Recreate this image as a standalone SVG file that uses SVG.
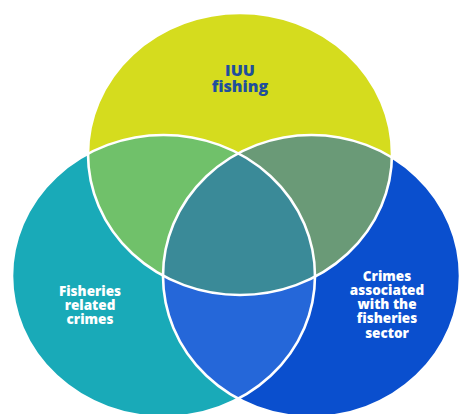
<svg xmlns="http://www.w3.org/2000/svg" xmlns:xlink="http://www.w3.org/1999/xlink" width="464" height="414" viewBox="0 0 464 414">
  <style>
    .outline { fill: none; stroke: #ffffff; stroke-width: 2.6; }
    .label { font-family: "Open Sans", "Liberation Sans", sans-serif; font-weight: 800; text-anchor: middle; }
    .light { fill: #ffffff; font-size: 13.5px; }
    .dark { fill: #1f4f9c; font-size: 16px; }
  </style>
  <defs>
    <ellipse id="e-top" cx="240" cy="154" rx="152" ry="141"/>
    <ellipse id="e-left" cx="163.5" cy="276" rx="151.5" ry="141"/>
    <ellipse id="e-right" cx="311.5" cy="276" rx="148.5" ry="141"/>
    <clipPath id="clip-top"><use xlink:href="#e-top"/></clipPath>
    <clipPath id="clip-left"><use xlink:href="#e-left"/></clipPath>
  </defs>
  <rect width="464" height="414" fill="#ffffff"/>

  <g id="iuu-fishing">
    <use xlink:href="#e-top" fill="#d5dc1e"/>
  </g>

  <g id="fisheries-related-crimes">
    <use xlink:href="#e-left" fill="#19aab8"/>
  </g>

  <g id="crimes-fisheries-sector">
    <use xlink:href="#e-right" fill="#0a4fce"/>
  </g>

  <!-- pairwise and triple overlaps -->
  <g id="overlaps">
    <use xlink:href="#e-left" fill="#70c16a" clip-path="url(#clip-top)"/>
    <use xlink:href="#e-right" fill="#6a9a77" clip-path="url(#clip-top)"/>
    <use xlink:href="#e-right" fill="#2567d9" clip-path="url(#clip-left)"/>
    <g clip-path="url(#clip-top)">
      <use xlink:href="#e-right" fill="#3a8a98" clip-path="url(#clip-left)"/>
    </g>
  </g>

  <!-- white rims drawn over all fills -->
  <g id="outlines">
    <use xlink:href="#e-top" class="outline"/>
    <use xlink:href="#e-left" class="outline"/>
    <use xlink:href="#e-right" class="outline"/>
  </g>

  <!-- multi-line set labels -->
  <g id="labels">
    <text class="label dark" x="240" y="76">IUU<tspan x="240" dy="16">fishing</tspan></text>
    <text class="label light" x="90" y="296">Fisheries<tspan x="90" dy="14">related</tspan><tspan x="90" dy="14">crimes</tspan></text>
    <text class="label light" x="387" y="281">Crimes<tspan x="387" dy="14">associated</tspan><tspan x="387" dy="14">with the</tspan><tspan x="387" dy="14">fisheries</tspan><tspan x="387" dy="15">sector</tspan></text>
  </g>
</svg>
